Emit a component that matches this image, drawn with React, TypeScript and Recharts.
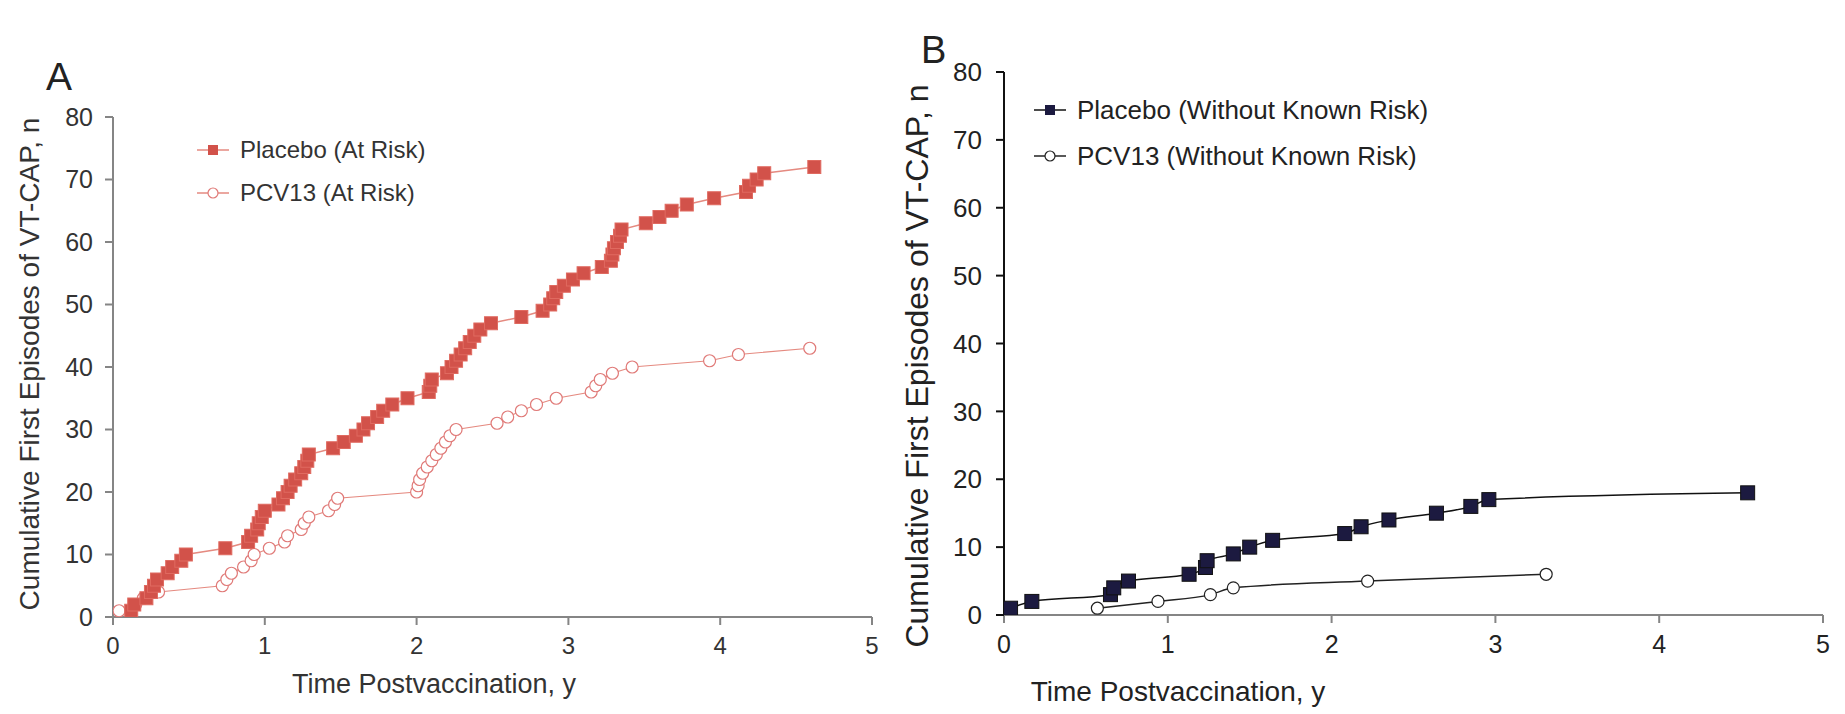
import React from 'react';
import { LineChart, Line, XAxis, YAxis } from 'recharts';

const FONT = '"Liberation Sans", Arial, sans-serif';

const xTicks = [0, 1, 2, 3, 4, 5];
const yTicks = [0, 10, 20, 30, 40, 50, 60, 70, 80];

// Panel A: at-risk subjects [time (y), cumulative first episodes]
const placeboAtRisk: [number, number][] = [
  [0.12, 1], [0.14, 2], [0.22, 3], [0.25, 4], [0.27, 5], [0.29, 6], [0.36, 7], [0.39, 8],
  [0.45, 9], [0.48, 10], [0.74, 11], [0.89, 12], [0.91, 13], [0.95, 14], [0.96, 15], [0.98, 16],
  [1.0, 17], [1.09, 18], [1.12, 19], [1.15, 20], [1.17, 21], [1.2, 22], [1.24, 23], [1.26, 24],
  [1.28, 25], [1.29, 26], [1.45, 27], [1.52, 28], [1.6, 29], [1.65, 30], [1.68, 31], [1.74, 32],
  [1.78, 33], [1.84, 34], [1.94, 35], [2.08, 36], [2.09, 37], [2.1, 38], [2.2, 39], [2.23, 40],
  [2.26, 41], [2.29, 42], [2.32, 43], [2.35, 44], [2.38, 45], [2.42, 46], [2.49, 47], [2.69, 48],
  [2.83, 49], [2.88, 50], [2.9, 51], [2.92, 52], [2.97, 53], [3.03, 54], [3.1, 55], [3.22, 56],
  [3.28, 57], [3.29, 58], [3.3, 59], [3.32, 60], [3.34, 61], [3.35, 62], [3.51, 63], [3.6, 64],
  [3.68, 65], [3.78, 66], [3.96, 67], [4.17, 68], [4.19, 69], [4.24, 70], [4.29, 71], [4.62, 72],
];

const pcv13AtRisk: [number, number][] = [
  [0.04, 1], [0.15, 2], [0.2, 3], [0.3, 4], [0.72, 5], [0.75, 6], [0.78, 7], [0.86, 8],
  [0.91, 9], [0.93, 10], [1.03, 11], [1.13, 12], [1.15, 13], [1.24, 14], [1.26, 15], [1.29, 16],
  [1.42, 17], [1.46, 18], [1.48, 19], [2.0, 20], [2.01, 21], [2.02, 22], [2.04, 23], [2.07, 24],
  [2.1, 25], [2.13, 26], [2.16, 27], [2.19, 28], [2.22, 29], [2.26, 30], [2.53, 31], [2.6, 32],
  [2.69, 33], [2.79, 34], [2.92, 35], [3.15, 36], [3.18, 37], [3.21, 38], [3.29, 39], [3.42, 40],
  [3.93, 41], [4.12, 42], [4.59, 43],
];

// Panel B: subjects without known risk
const placeboNoRisk: [number, number][] = [
  [0.04, 1], [0.17, 2], [0.65, 3], [0.67, 4], [0.76, 5], [1.13, 6], [1.23, 7], [1.24, 8],
  [1.4, 9], [1.5, 10], [1.64, 11], [2.08, 12], [2.18, 13], [2.35, 14], [2.64, 15], [2.85, 16],
  [2.96, 17], [4.54, 18],
];

const pcv13NoRisk: [number, number][] = [
  [0.57, 1], [0.94, 2], [1.26, 3], [1.4, 4], [2.22, 5], [3.31, 6],
];

const toPts = (arr: [number, number][]) => arr.map(([t, n]) => ({ t, n }));

const RED = '#d2524a';
const RED_LINE = '#e58a80';
const PINK = '#e07a78';
const NAVY = '#1c1a40';

const squareDot = (fill: string, size: number, stroke: string) => (props: any) => {
  const { cx, cy, index } = props;
  if (cx == null || cy == null) return <g key={`e-${index}`} />;
  return (
    <rect
      key={`sq-${index}`}
      x={cx - size / 2}
      y={cy - size / 2}
      width={size}
      height={size}
      fill={fill}
      stroke={stroke}
      strokeWidth={1}
    />
  );
};

type LegendItem = { label: string; kind: 'square' | 'circle'; color: string; line: string };

const LegendBox = ({ items, fontSize, rowH, textColor, left, top }: { items: LegendItem[]; fontSize: number; rowH: number; textColor: string; left: number; top: number }) => (
  <div style={{ position: 'absolute', left, top, fontFamily: FONT, fontSize, color: textColor }}>
    {items.map((it, i) => (
      <div key={i} style={{ display: 'flex', alignItems: 'center', height: rowH, whiteSpace: 'nowrap' }}>
        <svg width={34} height={20} style={{ marginRight: 10 }}>
          <line x1={1} y1={10} x2={33} y2={10} stroke={it.line} strokeWidth={1.5} />
          {it.kind === 'square' ? (
            <rect x={12} y={5} width={10} height={10} fill={it.color} />
          ) : (
            <circle cx={17} cy={10} r={5} fill="#fff" stroke={it.color} strokeWidth={1.2} />
          )}
        </svg>
        <span>{it.label}</span>
      </div>
    ))}
  </div>
);

const legendAItems: LegendItem[] = [
  { label: 'Placebo (At Risk)', kind: 'square', color: RED, line: RED_LINE },
  { label: 'PCV13 (At Risk)', kind: 'circle', color: PINK, line: RED_LINE },
];

const legendBItems: LegendItem[] = [
  { label: 'Placebo (Without Known Risk)', kind: 'square', color: NAVY, line: '#111' },
  { label: 'PCV13 (Without Known Risk)', kind: 'circle', color: '#222', line: '#222' },
];

const Y_TITLE = 'Cumulative First Episodes of VT-CAP, n';
const X_TITLE = 'Time Postvaccination, y';

export default function App() {
  return (
    <div style={{ position: 'absolute', left: 0, top: 0, width: 1845, height: 714, background: '#fff', fontFamily: FONT }}>
      {/* Panel A */}
      <div style={{ position: 'absolute', left: 0, top: 0, width: 900, height: 714 }}>
        <LineChart width={900} height={714} margin={{ top: 117, right: 28, bottom: 67, left: 53 }}>
          <XAxis
            type="number"
            dataKey="t"
            domain={[0, 5]}
            ticks={xTicks}
            allowDataOverflow
            stroke="#858585"
            strokeWidth={2}
            tickSize={8}
            tickMargin={12}
            tick={{ fontSize: 24, fill: '#333', fontFamily: FONT }}
            height={30}
          />
          <YAxis
            type="number"
            dataKey="n"
            domain={[0, 80]}
            ticks={yTicks}
            allowDataOverflow
            stroke="#858585"
            strokeWidth={2}
            tickSize={8}
            tickMargin={12}
            tick={{ fontSize: 25, fill: '#333', fontFamily: FONT }}
            width={60}
          />
          <Line
            data={toPts(pcv13AtRisk)}
            dataKey="n"
            stroke={RED_LINE}
            strokeWidth={1.2}
            dot={{ r: 6, fill: '#fff', stroke: PINK, strokeWidth: 1.2 }}
            isAnimationActive={false}
            type="linear"
          />
          <Line
            data={toPts(placeboAtRisk)}
            dataKey="n"
            stroke={RED_LINE}
            strokeWidth={1.5}
            dot={squareDot(RED, 13, '#e06a60')}
            isAnimationActive={false}
            type="linear"
          />
        </LineChart>
        <LegendBox items={legendAItems} fontSize={24} rowH={43} textColor="#333" left={196} top={128} />
        <div style={{ position: 'absolute', left: 46, top: 55, fontSize: 39, color: '#222' }}>A</div>
        <div
          style={{
            position: 'absolute',
            left: 30,
            top: 364,
            transform: 'translate(-50%, -50%) rotate(-90deg)',
            fontSize: 28,
            color: '#333',
            whiteSpace: 'nowrap',
          }}
        >
          {Y_TITLE}
        </div>
        <div
          style={{
            position: 'absolute',
            left: 434,
            top: 684,
            transform: 'translate(-50%, -50%)',
            fontSize: 27,
            color: '#333',
            whiteSpace: 'nowrap',
          }}
        >
          {X_TITLE}
        </div>
      </div>

      {/* Panel B */}
      <div style={{ position: 'absolute', left: 900, top: 0, width: 945, height: 714 }}>
        <LineChart width={945} height={714} margin={{ top: 72, right: 22, bottom: 69, left: 44 }}>
          <XAxis
            type="number"
            dataKey="t"
            domain={[0, 5]}
            ticks={xTicks}
            allowDataOverflow
            stroke="#858585"
            strokeWidth={2}
            tickSize={8}
            tickMargin={12}
            tick={{ fontSize: 25, fill: '#222', fontFamily: FONT }}
            height={30}
          />
          <YAxis
            type="number"
            dataKey="n"
            domain={[0, 80]}
            ticks={yTicks}
            allowDataOverflow
            stroke="#111"
            strokeWidth={2}
            tickSize={8}
            tickMargin={14}
            tick={{ fontSize: 26, fill: '#222', fontFamily: FONT }}
            width={60}
          />
          <Line
            data={toPts(pcv13NoRisk)}
            dataKey="n"
            stroke="#222"
            strokeWidth={1.5}
            dot={{ r: 6, fill: '#fff', stroke: '#222', strokeWidth: 1.2 }}
            isAnimationActive={false}
            type="monotone"
          />
          <Line
            data={toPts(placeboNoRisk)}
            dataKey="n"
            stroke="#111"
            strokeWidth={1.5}
            dot={squareDot(NAVY, 14, '#111')}
            isAnimationActive={false}
            type="monotone"
          />
        </LineChart>
        <LegendBox items={legendBItems} fontSize={26} rowH={46} textColor="#222" left={133} top={87} />
        <div style={{ position: 'absolute', left: 21, top: 29, fontSize: 38, color: '#222' }}>B</div>
        <div
          style={{
            position: 'absolute',
            left: 17,
            top: 366,
            transform: 'translate(-50%, -50%) rotate(-90deg)',
            fontSize: 32,
            color: '#222',
            whiteSpace: 'nowrap',
          }}
        >
          {Y_TITLE}
        </div>
        <div
          style={{
            position: 'absolute',
            left: 278,
            top: 692,
            transform: 'translate(-50%, -50%)',
            fontSize: 28,
            color: '#222',
            whiteSpace: 'nowrap',
          }}
        >
          {X_TITLE}
        </div>
      </div>
    </div>
  );
}
